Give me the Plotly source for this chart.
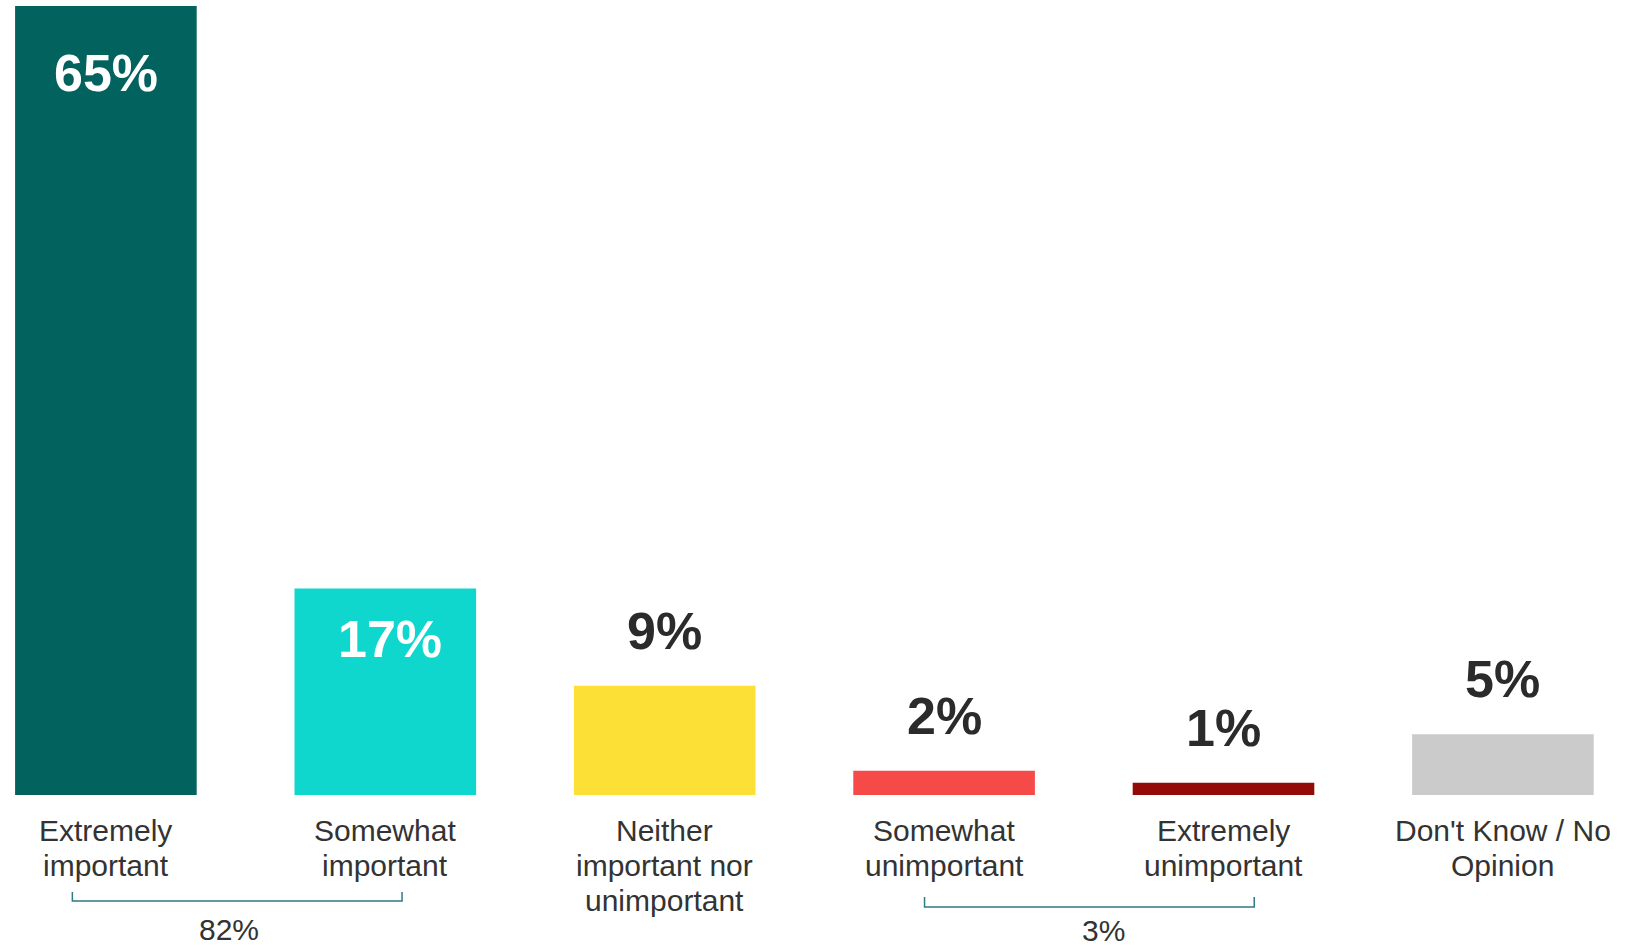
import plotly.graph_objects as go

# survey responses
categories = [
    "Extremely<br>important",
    "Somewhat<br>important",
    "Neither<br>important nor<br>unimportant",
    "Somewhat<br>unimportant",
    "Extremely<br>unimportant",
    "Don't Know / No<br>Opinion",
]
values = [65, 17, 9, 2, 1, 5]
value_labels = ["65%", "17%", "9%", "2%", "1%", "5%"]
bar_colors = ["#02625E", "#0FD7CD", "#FCE035", "#F64A48", "#930A08", "#CBCBCB"]

# bracket groups: (first index, last index, combined label)
groups = [(0, 1, "82%"), (3, 4, "3%")]

FONT = "Liberation Sans, Arial, Helvetica, sans-serif"
PX = 950 / (65.49 + 12.77)  # pixels per % on y

fig = go.Figure()
fig.add_trace(go.Bar(
    x=list(range(len(values))),
    y=values,
    marker=dict(color=bar_colors, line=dict(width=0)),
    width=0.65,
    hoverinfo="skip",
))

annotations = []
inside_shift = {0: -67, 1: -50}
for i, (v, lab) in enumerate(zip(values, value_labels)):
    inside = i in inside_shift
    annotations.append(dict(
        x=i, y=v, xref="x", yref="y", text="<b>%s</b>" % lab, showarrow=False,
        xanchor="center", yanchor="middle",
        xshift=5 if i == 1 else 0,
        yshift=inside_shift[i] if inside else 55,
        font=dict(family=FONT, size=52, color="white" if inside else "#2B2B2B"),
    ))
    for j, line in enumerate(categories[i].split("<br>")):
        annotations.append(dict(
            x=i, y=0, xref="x", yref="y", text=line, showarrow=False,
            xanchor="center", yanchor="middle", yshift=-36 - 34.6 * j,
            font=dict(family=FONT, size=30, color="#333333"),
        ))

shapes = []
bracket_pix = [(892, 901, 930, -0.12, 0.06, -0.06), (897, 907, 931, -0.07, 0.11, 0.072)]
for (a, b, lab), (tick_top, line_y, text_y, pad_l, pad_r, tx) in zip(groups, bracket_pix):
    y0 = -(tick_top - 795) / PX
    y1 = -(line_y - 795) / PX
    x0 = a + pad_l
    x1 = b + pad_r
    shapes.append(dict(
        type="path", xref="x", yref="y",
        path="M %f %f L %f %f L %f %f L %f %f" % (x0, y0, x0, y1, x1, y1, x1, y0),
        line=dict(color="#2F7A86", width=1.5),
    ))
    annotations.append(dict(
        x=(a + b) / 2 + tx, y=-(text_y - 795) / PX, xref="x", yref="y",
        text=lab, showarrow=False, xanchor="center", yanchor="middle",
        borderpad=0,
        font=dict(family=FONT, size=30, color="#333333"),
    ))

fig.update_layout(
    width=1644, height=950,
    margin=dict(l=0, r=0, t=0, b=0),
    paper_bgcolor="white", plot_bgcolor="white",
    showlegend=False,
    annotations=annotations,
    shapes=shapes,
    xaxis=dict(range=[-0.379, 5.505], visible=False, fixedrange=True),
    yaxis=dict(range=[-12.77, 65.49], visible=False, fixedrange=True),
)

fig.write_html(
    "out.html",
    config={"displayModeBar": False},
    post_script="document.body.style.margin='0';document.body.style.overflow='hidden';",
)
